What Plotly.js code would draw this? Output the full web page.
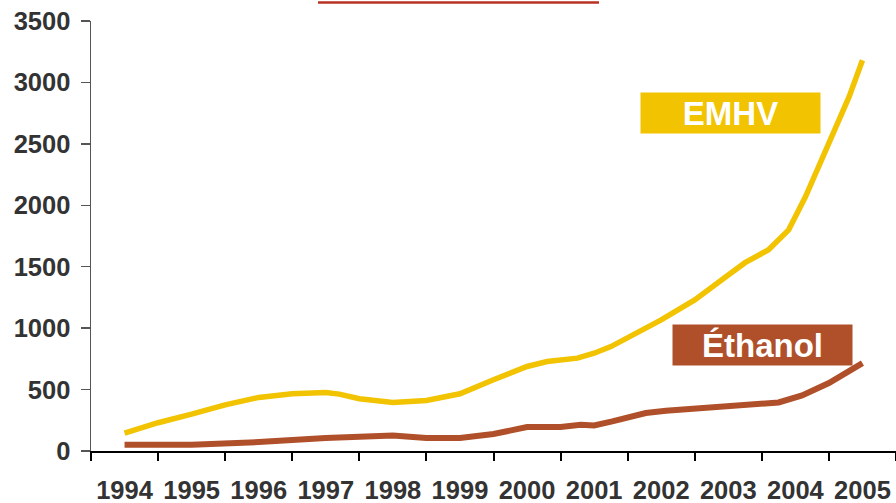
<!DOCTYPE html>
<html>
<head>
<meta charset="utf-8">
<script src="https://cdn.plot.ly/plotly-3.0.1.min.js"></script>
<style>html,body{margin:0;padding:0;background:#fff;}#chart{width:896px;height:503px;}</style>
</head>
<body>
<div id="chart"></div>
<script>
const yearLabels = ['1994','1995','1996','1997','1998','1999','2000','2001','2002','2003','2004','2005'];
const yearPositions = [1994,1995,1996,1997,1998,1999,2000,2001,2002,2003,2004,2005];
const yearBoundaries = [1993.5,1994.5,1995.5,1996.5,1997.5,1998.5,1999.5,2000.5,2001.5,2002.5,2003.5,2004.5,2005.5];

const emhvX = [1994,1994.5,1995,1995.5,1996,1996.5,1997,1997.2,1997.5,1998,1998.5,1999,1999.5,2000,2000.3,2000.75,2001,2001.25,2002,2002.5,2003,2003.25,2003.6,2003.9,2004.15,2004.5,2004.8,2005];
const emhvY = [145,230,300,376,436,466,476,463,425,395,411,466,580,688,728,756,796,850,1067,1230,1433,1533,1638,1800,2069,2503,2882,3180];

const ethanolX = [1994,1995,1996,1996.5,1997,1998,1998.5,1999,1999.5,2000,2000.5,2000.8,2001,2001.27,2001.77,2002.07,2003,2003.5,2003.75,2004.1,2004.5,2005];
const ethanolY = [51,51,73,92,106,127,106,106,138,195,195,214,208,241,309,328,363,376,395,452,553,715];

const tickFont = {family:'"Liberation Sans", Arial, sans-serif', size:25.5, color:'#333333', weight:'bold'};
const labelFont = {family:'"Liberation Sans", Arial, sans-serif', size:33, color:'#ffffff', weight:'bold'};

const traces = [
  {x: emhvX, y: emhvY, type:'scatter', mode:'lines', name:'EMHV', line:{color:'#F2C300', width:5.5}, xaxis:'x', yaxis:'y'},
  {x: ethanolX, y: ethanolY, type:'scatter', mode:'lines', name:'Éthanol', line:{color:'#B0502A', width:6}, xaxis:'x2', yaxis:'y'}
];

const layout = {
  width:896, height:503,
  margin:{l:91, r:0, t:21, b:52},
  paper_bgcolor:'#ffffff', plot_bgcolor:'#ffffff',
  showlegend:false,
  xaxis:{
    range:[1993.5,2005.5], tickvals:yearPositions, ticktext:yearLabels,
    ticks:'', showgrid:false, zeroline:false,
    showline:true, linecolor:'#000000', linewidth:2,
    tickfont:tickFont, ticklabelstandoff:15
  },
  xaxis2:{
    range:[1993.5,2005.5], overlaying:'x', anchor:'y', side:'bottom',
    tickvals:yearBoundaries, showticklabels:false,
    ticks:'outside', ticklen:9, tickwidth:2, tickcolor:'#000000',
    showgrid:false, zeroline:false, showline:false
  },
  yaxis:{
    range:[0,3500], dtick:500, tick0:0,
    ticks:'outside', ticklen:9, tickwidth:1.5, tickcolor:'#555555',
    showline:true, linecolor:'#555555', linewidth:1.5,
    showgrid:false, zeroline:false,
    tickfont:tickFont, ticklabelstandoff:5
  },
  annotations:[
    {x:2003.03, y:2750, xref:'x', yref:'y', text:'EMHV', showarrow:false,
     bgcolor:'#F2C300', width:179, height:40, borderpad:0, font:labelFont, align:'center', valign:'middle'},
    {x:2003.51, y:864, xref:'x', yref:'y', text:'Éthanol', showarrow:false,
     bgcolor:'#B0502A', width:179, height:40, borderpad:0, font:labelFont, align:'center', valign:'middle'}
  ],
  shapes:[
    {type:'line', xref:'paper', yref:'paper', x0:(318-91)/805, x1:(599-91)/805, y0:1+(21-2.5)/430, y1:1+(21-2.5)/430,
     line:{color:'#B83224', width:2.5}}
  ]
};

Plotly.newPlot('chart', traces, layout, {displayModeBar:false, staticPlot:true});
</script>
</body>
</html>
